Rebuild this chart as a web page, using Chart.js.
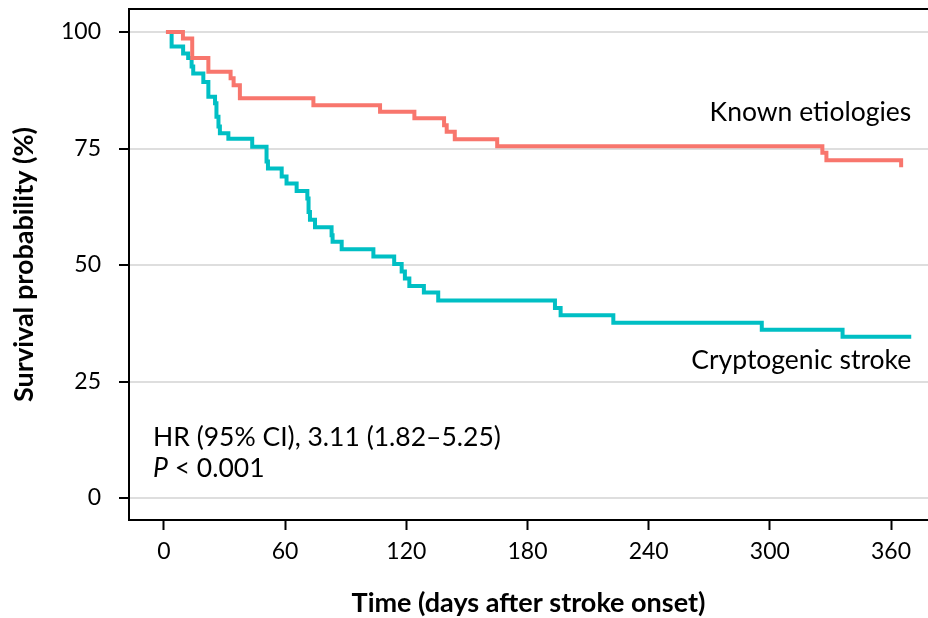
<!DOCTYPE html>
<html>
<head>
<meta charset="utf-8">
<script src="https://cdn.jsdelivr.net/npm/chart.js@4/dist/chart.umd.min.js"></script>
<style>
	html, body { margin: 0; padding: 0; background: #fff; }
	#wrap { width: 928px; height: 618px; }
</style>
</head>
<body>
<div id="wrap"><canvas id="chart" width="928" height="618"></canvas></div>
<script>
// Kaplan-Meier steps (day, survival %)
var knownDays = [1, 9.4, 14, 22, 33, 34.5, 37.6, 74, 107, 124, 138.7, 140, 144, 165, 326, 328, 365];
var knownSurv = [100, 98.6, 94.4, 91.5, 90.1, 88.6, 85.8, 84.3, 82.9, 81.5, 80, 78.6, 77, 75.5, 74.1, 72.5, 71];

var cryptoDays = [1, 3.8, 9.5, 12, 13.7, 14.5, 19.5, 22, 25.3, 26, 27, 27.7, 31.9, 43.7, 50.8, 51.5, 58.3, 60.7, 65.7, 71, 71.6, 72.3, 74.8, 83, 83.5, 88, 103.7, 114, 117.7, 119.3, 121.5, 128.7, 135.8, 193.6, 196.4, 222.5, 296, 336, 370];
var cryptoSurv = [100, 96.9, 95.4, 94.4, 92.6, 91.1, 89.3, 86.1, 84.7, 81.8, 79.7, 78.3, 77.1, 75.4, 72.2, 70.7, 69, 67.5, 65.9, 64.3, 61.4, 59.7, 58.1, 56.4, 55, 53.4, 51.8, 50.2, 48.6, 47.1, 45.5, 44.1, 42.4, 40.8, 39.2, 37.6, 36.1, 34.6, 34.6];

var xTicks = [0, 60, 120, 180, 240, 300, 360];
var yTicks = [0, 25, 50, 75, 100];

var seriesNames = ["Known etiologies", "Cryptogenic stroke"];
var hrText = "HR (95% CI), 3.11 (1.82–5.25)";
var pText = " < 0.001";

var red = "#F8766D";
var cyan = "#00BFC4";
var fontFam = "Lato, 'Open Sans', sans-serif";
var noteSize = 26.5;

function toPoints(days, surv) {
	var pts = [];
	for (let i = 0; i < days.length; i++) {
		pts.push({ x: days[i], y: surv[i] });
	}
	return pts;
}

var labelsPlugin = {
	id: "kmLabels",
	afterDatasetsDraw: function (chart) {
		var ctx = chart.ctx;
		var xs = chart.scales.x;
		var ys = chart.scales.y;
		var area = chart.chartArea;
		ctx.save();
		// top border of the panel
		ctx.strokeStyle = "#000";
		ctx.lineWidth = 2;
		ctx.beginPath();
		ctx.moveTo(area.left, area.top);
		ctx.lineTo(area.right, area.top);
		ctx.stroke();

		ctx.fillStyle = "#000";
		ctx.font = noteSize + "px " + fontFam;
		ctx.textBaseline = "middle";
		ctx.textAlign = "right";
		ctx.fillText(seriesNames[0], xs.getPixelForValue(370), ys.getPixelForValue(82.8));
		ctx.fillText(seriesNames[1], xs.getPixelForValue(370), ys.getPixelForValue(29.6));

		ctx.textAlign = "left";
		var x0 = xs.getPixelForValue(-5.4);
		ctx.fillText(hrText, x0, ys.getPixelForValue(13.1));
		ctx.font = "italic " + noteSize + "px " + fontFam;
		ctx.fillText("P", x0, ys.getPixelForValue(6.4));
		var w = ctx.measureText("P").width;
		ctx.font = noteSize + "px " + fontFam;
		ctx.fillText(pText, x0 + w, ys.getPixelForValue(6.4));
		ctx.restore();
	},
};

var grafico = new Chart(document.getElementById("chart"), {
	type: "line",
	data: {
		datasets: [
			{
				label: seriesNames[0],
				data: toPoints(knownDays, knownSurv),
				borderColor: red,
				borderWidth: 4,
				pointRadius: 0,
				stepped: "before",
				fill: false,
			},
			{
				label: seriesNames[1],
				data: toPoints(cryptoDays, cryptoSurv),
				borderColor: cyan,
				borderWidth: 4,
				pointRadius: 0,
				stepped: "before",
				fill: false,
			},
		],
	},
	options: {
		responsive: false,
		animation: false,
		layout: { padding: { top: 9, right: 0, left: 0, bottom: 0 } },
		plugins: {
			legend: { display: false },
			tooltip: { enabled: false },
		},
		scales: {
			x: {
				type: "linear",
				min: -17.3,
				max: 378.3,
				afterBuildTicks: function (scale) {
					scale.ticks = xTicks.map(function (v) { return { value: v }; });
				},
				afterFit: function (scale) {
					scale.height = 98;
					scale.paddingLeft = 0;
					scale.paddingRight = 0;
				},
				grid: {
					drawOnChartArea: false,
					drawTicks: true,
					tickLength: 10,
					tickColor: "#000",
					tickWidth: 2,
				},
				border: { display: true, color: "#000", width: 2 },
				ticks: {
					color: "#000",
					padding: 8,
					maxRotation: 0,
					font: { family: fontFam, size: 23 },
				},
				title: {
					display: true,
					text: "Time (days after stroke onset)",
					color: "#000",
					padding: { top: 0, bottom: 1 },
					font: { family: fontFam, size: 27, weight: "bold", lineHeight: 1 },
				},
			},
			y: {
				type: "linear",
				min: -4.72,
				max: 104.94,
				afterBuildTicks: function (scale) {
					scale.ticks = yTicks.map(function (v) { return { value: v }; });
				},
				afterFit: function (scale) {
					scale.width = 129;
					scale.paddingTop = 0;
					scale.paddingBottom = 0;
				},
				grid: {
					color: "#dedede",
					lineWidth: 2,
					drawTicks: true,
					tickLength: 10,
					tickColor: "#000",
					tickWidth: 2,
				},
				border: { display: true, color: "#000", width: 2 },
				ticks: {
					color: "#000",
					padding: 18,
					font: { family: fontFam, size: 23 },
				},
				title: {
					display: true,
					text: "Survival probability (%)",
					color: "#000",
					padding: { top: 11, bottom: 0 },
					font: { family: fontFam, size: 27, weight: "bold", lineHeight: 1 },
				},
			},
		},
	},
	plugins: [labelsPlugin],
});
</script>
</body>
</html>
